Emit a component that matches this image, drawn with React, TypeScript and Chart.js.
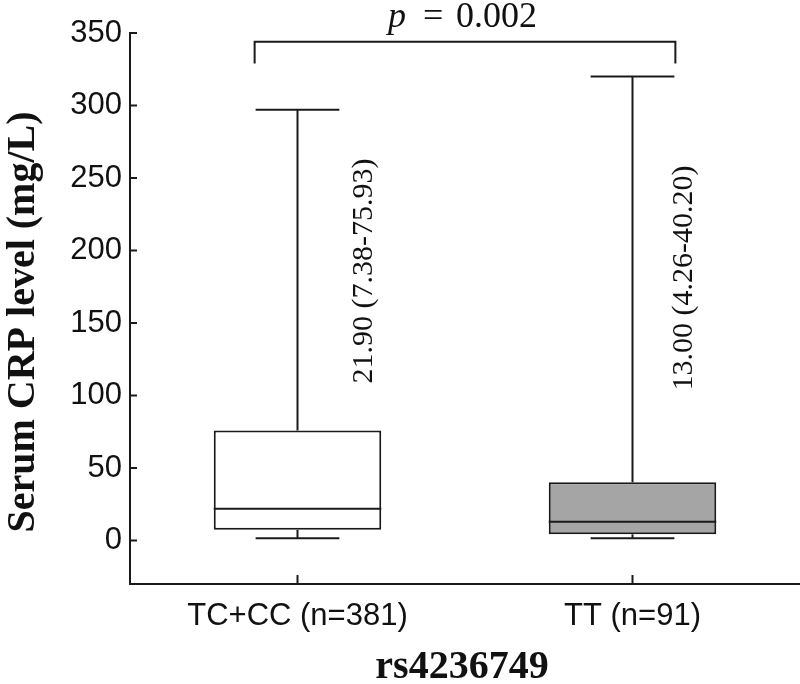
import React, { useEffect, useRef } from "react";
import { Chart, registerables } from "chart.js";

Chart.register(...registerables);

// ---- data ----
const categories = ["TC+CC (n=381)", "TT (n=91)"];
const whiskerMin = [1.5, 1.5];
const q1Values = [7.38, 4.26];
const medianValues = [21.9, 13.0];
const q3Values = [75.93, 40.2];
const whiskerMax = [297, 320];
const boxFills = ["#ffffff", "#a5a5a5"];
const annotationTexts = ["21.90 (7.38-75.93)", "13.00 (4.26-40.20)"];
const yTicks = [0, 50, 100, 150, 200, 250, 300, 350];
const yMin = -30;
const yMax = 350;
const bracketTop = 344;
const bracketDrop = 329;
const pValueText = "0.002";
const yTitle = "Serum CRP level (mg/L)";
const xTitle = "rs4236749";

const INK = "#1a1a1a";
const SANS = '"Liberation Sans", Arial, sans-serif';
const SERIF = '"Liberation Serif", "Times New Roman", serif';

const boxPlugin = {
  id: "boxExtras",
  afterDatasetsDraw(chart: any) {
    const ctx = chart.ctx;
    const ys = chart.scales.y;
    const xs = chart.scales.x;
    const area = chart.chartArea;
    const meta = chart.getDatasetMeta(0);
    ctx.save();
    ctx.strokeStyle = INK;
    ctx.lineWidth = 2;
    ctx.lineCap = "butt";
    const line = (x1: number, y1: number, x2: number, y2: number) => {
      ctx.beginPath();
      ctx.moveTo(x1, y1);
      ctx.lineTo(x2, y2);
      ctx.stroke();
    };
    meta.data.forEach((bar: any, i: number) => {
      const cx = bar.x;
      const w = bar.width;
      const pMax = ys.getPixelForValue(whiskerMax[i]);
      const pMin = ys.getPixelForValue(whiskerMin[i]);
      const pQ1 = ys.getPixelForValue(q1Values[i]);
      const pQ3 = ys.getPixelForValue(q3Values[i]);
      const pMed = ys.getPixelForValue(medianValues[i]);
      line(cx, pQ3, cx, pMax);
      line(cx - w / 4, pMax, cx + w / 4, pMax);
      line(cx, pQ1, cx, pMin);
      line(cx - w / 4, pMin, cx + w / 4, pMin);
      line(cx - w / 2, pMed, cx + w / 2, pMed);
    });
    // inward ticks
    yTicks.forEach((v) => {
      const py = ys.getPixelForValue(v);
      line(area.left, py, area.left + 7, py);
    });
    categories.forEach((_, i) => {
      const px = xs.getPixelForValue(i);
      line(px, area.bottom, px, area.bottom - 9);
    });
    // bracket
    const b0 = meta.data[0];
    const b1 = meta.data[1];
    const bl = b0.x - b0.width / 4 - 1;
    const br = b1.x + b1.width / 4 + 1;
    const pt = ys.getPixelForValue(bracketTop);
    const pd = ys.getPixelForValue(bracketDrop);
    ctx.beginPath();
    ctx.moveTo(bl, pd);
    ctx.lineTo(bl, pt);
    ctx.lineTo(br, pt);
    ctx.lineTo(br, pd);
    ctx.stroke();

    // p value text
    const mid = (bl + br) / 2;
    ctx.fillStyle = "#111";
    ctx.textBaseline = "alphabetic";
    ctx.textAlign = "left";
    ctx.font = `italic 36px ${SERIF}`;
    ctx.fillText("p", mid - 77, pt - 15);
    ctx.font = `36px ${SERIF}`;
    ctx.fillText("=", mid - 42, pt - 15);
    ctx.fillText(pValueText, mid - 9, pt - 15);

    // rotated annotations
    const annOffsets = [74.5, 59.5];
    const annCenters = [271, 278];
    ctx.font = `30px ${SERIF}`;
    meta.data.forEach((bar: any, i: number) => {
      ctx.save();
      ctx.translate(bar.x + annOffsets[i], annCenters[i]);
      ctx.rotate(-Math.PI / 2);
      ctx.textAlign = "center";
      ctx.textBaseline = "alphabetic";
      ctx.fillText(annotationTexts[i], 0, 0);
      ctx.restore();
    });

    // axis titles
    ctx.font = `bold 40px ${SERIF}`;
    ctx.save();
    ctx.translate(34, 322);
    ctx.rotate(-Math.PI / 2);
    ctx.textAlign = "center";
    ctx.fillText(yTitle, 0, 0);
    ctx.restore();
    ctx.textAlign = "center";
    ctx.fillText(xTitle, 462, 678);
    ctx.restore();
  },
};

export default function App() {
  const ref = useRef<HTMLCanvasElement | null>(null);
  useEffect(() => {
    document.body.style.margin = "0";
    const canvas = ref.current;
    if (!canvas) return;
    const chart = new Chart(canvas, {
      type: "bar",
      data: {
        labels: categories,
        datasets: [
          {
            data: q1Values.map((v, i) => [v, q3Values[i]]) as any,
            backgroundColor: boxFills,
            borderColor: INK,
            borderWidth: 2,
            borderSkipped: false,
            barPercentage: 0.5,
            categoryPercentage: 1,
          },
        ],
      },
      options: {
        responsive: false,
        animation: false,
        events: [],
        layout: { padding: { top: 33, right: 0, left: 0, bottom: 0 } },
        plugins: {
          legend: { display: false },
          tooltip: { enabled: false },
          title: { display: false },
        },
        scales: {
          x: {
            type: "category",
            offset: true,
            grid: { display: false, drawTicks: false },
            border: { display: true, color: INK, width: 2 },
            ticks: {
              color: "#111",
              font: { family: SANS, size: 31 },
              padding: 14,
              maxRotation: 0,
            },
            afterFit(scale: any) {
              scale.height = 100;
            },
          },
          y: {
            type: "linear",
            min: yMin,
            max: yMax,
            grid: { display: false, drawTicks: false },
            border: { display: true, color: INK, width: 2 },
            ticks: {
              color: "#111",
              font: { family: SANS, size: 31 },
              padding: 8,
            },
            afterBuildTicks(scale: any) {
              scale.ticks = yTicks.map((v) => ({ value: v }));
            },
            afterFit(scale: any) {
              scale.width = 130;
            },
          },
        },
      },
      plugins: [boxPlugin],
    });
    return () => chart.destroy();
  }, []);
  return (
    <canvas
      ref={ref}
      width={800}
      height={684}
      style={{ position: "fixed", left: 0, top: 0, display: "block" }}
    />
  );
}
